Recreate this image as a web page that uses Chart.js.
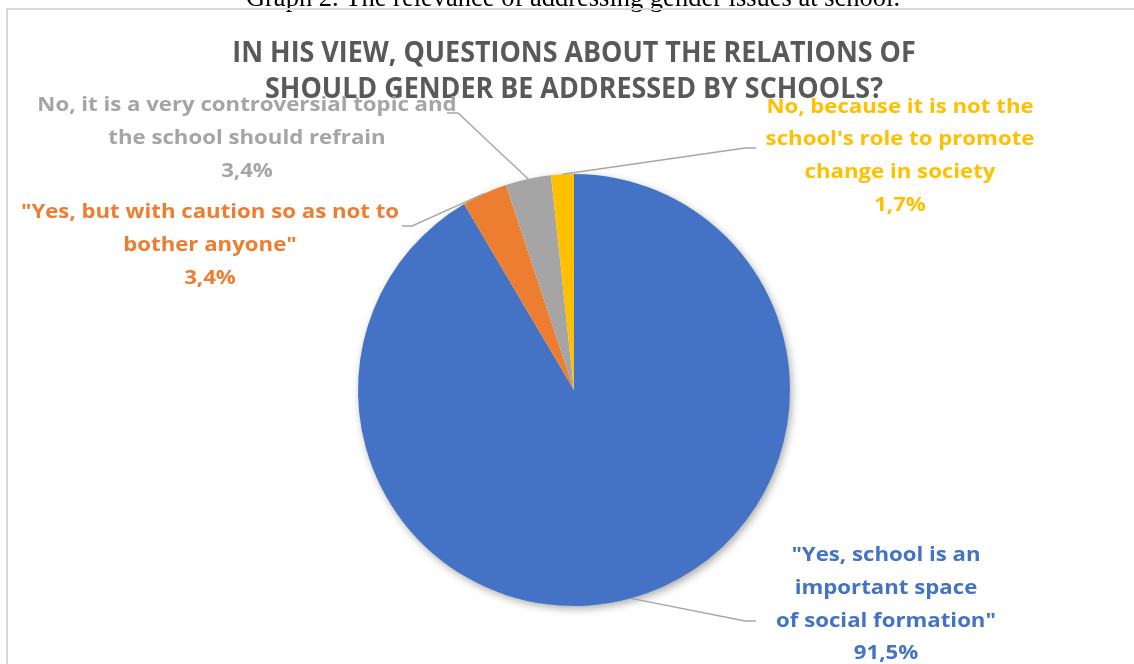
<!DOCTYPE html>
<html>
<head>
<meta charset="utf-8">
<script src="https://cdn.jsdelivr.net/npm/chart.js@4/dist/chart.umd.min.js"></script>
<style>
  html, body { margin: 0; padding: 0; background: #ffffff; }
  #wrap { width: 1134px; height: 664px; position: relative; overflow: hidden; }
</style>
</head>
<body>
<div id="wrap"><canvas id="pie" width="1134" height="664"></canvas></div>
<script>
// Answer categories (each entry holds the lines of its label)
const categories = [
  ['"Yes, school is an', 'important space', 'of social formation"'],
  ['"Yes, but with caution so as not to', 'bother anyone"'],
  ['No, it is a very controversial topic and', 'the school should refrain'],
  ['No, because it is not the', "school's role to promote", 'change in society']
];
// Share of answers, in percent
const shares = [91.5, 3.4, 3.4, 1.7];
const sliceColors = ['#4472C4', '#ED7D31', '#A5A5A5', '#FFC000'];

const captionText = 'Graph 2. The relevance of addressing gender issues at school.';
const titleLines = ['IN HIS VIEW, QUESTIONS ABOUT THE RELATIONS OF', 'SHOULD GENDER BE ADDRESSED BY SCHOOLS?'];

// Where each callout sits: text centre, first baseline, leader elbow and tick end
const calloutLayout = [
  { cx: 886, y0: 561, elbow: [745, 621], tick: [756, 621] },
  { cx: 210, y0: 218, elbow: [412, 226], tick: [402, 226] },
  { cx: 247, y0: 111, elbow: [458, 113], tick: [447, 113] },
  { cx: 900, y0: 112.5, elbow: [745, 148], tick: [756, 148] }
];

const LABEL_FONT = 'bold 20px "Open Sans", "DejaVu Sans", sans-serif';
const LABEL_STRETCH = 1.11;
const TITLE_FONT = 'bold 28px "Open Sans", "DejaVu Sans", sans-serif';
const TITLE_STRETCH = 0.96;
const LINE_STEP = 32.8;

function stretchedText(ctx, text, x, y, sx) {
  ctx.save();
  ctx.translate(x, y);
  ctx.scale(sx, 1);
  ctx.fillText(text, 0, 0);
  ctx.restore();
}

const pageFrame = {
  id: 'pageFrame',
  beforeDraw(chart) {
    const ctx = chart.ctx;
    ctx.save();
    ctx.fillStyle = '#ffffff';
    ctx.fillRect(0, 0, chart.width, chart.height);
    // caption above the frame
    ctx.fillStyle = '#000000';
    ctx.font = '26.5px "Liberation Serif", "Times New Roman", serif';
    ctx.textAlign = 'center';
    ctx.textBaseline = 'alphabetic';
    ctx.fillText(captionText, 573, 6);
    // chart frame
    ctx.strokeStyle = '#d9d9d9';
    ctx.lineWidth = 2;
    ctx.strokeRect(7, 9, chart.width + 20, chart.height + 20);
    // title
    ctx.fillStyle = '#595959';
    ctx.font = TITLE_FONT;
    stretchedText(ctx, titleLines[0], 574, 61.5, TITLE_STRETCH);
    stretchedText(ctx, titleLines[1], 574, 98, TITLE_STRETCH);
    ctx.restore();
  }
};

const pieShadow = {
  id: 'pieShadow',
  beforeDatasetsDraw(chart) {
    const arc = chart.getDatasetMeta(0).data[0];
    if (!arc) return;
    const ctx = chart.ctx;
    ctx.save();
    ctx.shadowColor = 'rgba(0,0,0,0.35)';
    ctx.shadowBlur = 9;
    ctx.shadowOffsetX = 2;
    ctx.shadowOffsetY = 3;
    ctx.fillStyle = '#ffffff';
    ctx.beginPath();
    ctx.arc(arc.x, arc.y, arc.outerRadius - 0.5, 0, Math.PI * 2);
    ctx.fill();
    ctx.restore();
  }
};

const callouts = {
  id: 'callouts',
  afterDatasetsDraw(chart) {
    const ctx = chart.ctx;
    const meta = chart.getDatasetMeta(0);
    ctx.save();
    meta.data.forEach((arc, i) => {
      const lay = calloutLayout[i];
      const mid = (arc.startAngle + arc.endAngle) / 2;
      const sx = arc.x + Math.cos(mid) * arc.outerRadius;
      const sy = arc.y + Math.sin(mid) * arc.outerRadius;
      // leader line
      ctx.strokeStyle = '#a6a6a6';
      ctx.lineWidth = 1.4;
      ctx.beginPath();
      ctx.moveTo(sx, sy);
      ctx.lineTo(lay.elbow[0], lay.elbow[1]);
      ctx.lineTo(lay.tick[0], lay.tick[1]);
      ctx.stroke();
      // text
      const lines = categories[i].concat([shares[i].toFixed(1).replace('.', ',') + '%']);
      ctx.fillStyle = sliceColors[i];
      ctx.font = LABEL_FONT;
      ctx.textAlign = 'center';
      ctx.textBaseline = 'alphabetic';
      lines.forEach((t, k) => {
        stretchedText(ctx, t, lay.cx, lay.y0 + k * LINE_STEP, LABEL_STRETCH);
      });
    });
    ctx.restore();
  }
};

new Chart(document.getElementById('pie'), {
  type: 'pie',
  data: {
    labels: categories,
    datasets: [{
      data: shares,
      backgroundColor: sliceColors,
      borderWidth: 0,
      hoverOffset: 0
    }]
  },
  options: {
    responsive: false,
    devicePixelRatio: 1,
    animation: false,
    rotation: 0,
    layout: { padding: { top: 174, bottom: 58, left: 100, right: 86 } },
    plugins: {
      legend: { display: false },
      title: { display: false },
      tooltip: { enabled: false }
    }
  },
  plugins: [pageFrame, pieShadow, callouts]
});
</script>
</body>
</html>
